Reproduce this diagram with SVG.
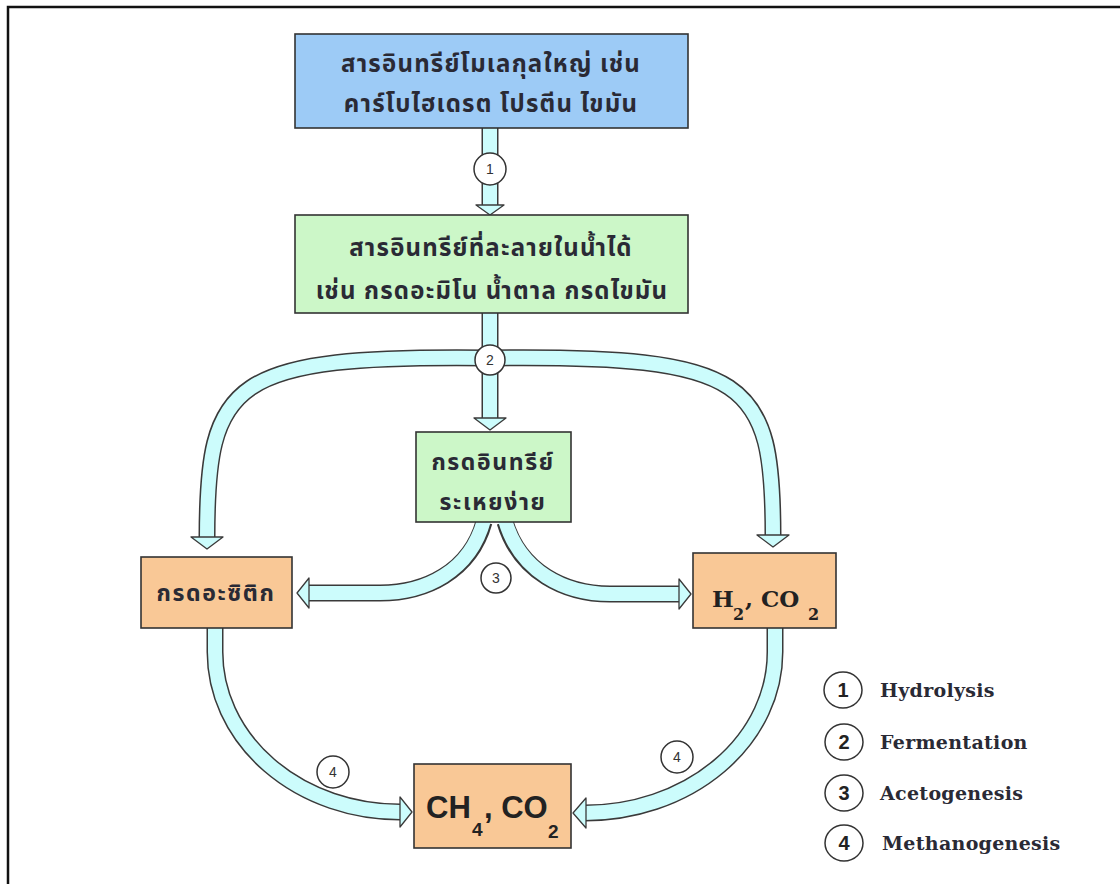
<svg xmlns="http://www.w3.org/2000/svg" width="1120" height="884" viewBox="0 0 1120 884">
  <defs>
    <style>
      .box { stroke: #333; stroke-width: 1.6; }
      .blue { fill: #9dcbf6; }
      .green { fill: #ccf7c8; }
      .orange { fill: #f9c896; }
      .th { font-family: "Noto Sans Thai", "Noto Sans", "DejaVu Sans", sans-serif; font-weight: bold; fill: #2a2a35; text-anchor: middle; }
      .tube-o { fill: none; stroke: #3a3a3a; stroke-width: 17; }
      .tube-i { fill: none; stroke: #ccfcfc; stroke-width: 14; }
      .head { fill: #ccfcfc; stroke: #3a3a3a; stroke-width: 1.3; stroke-linejoin: round; }
      .step { fill: #fff; stroke: #333; stroke-width: 1.5; }
      .num { font-family: "Liberation Sans", Arial, sans-serif; font-size: 14px; fill: #333; text-anchor: middle; }
      .lnum { font-family: "Liberation Sans", Arial, sans-serif; font-size: 20px; font-weight: bold; fill: #222; text-anchor: middle; }
      .leg { font-family: "DejaVu Serif", serif; font-size: 19px; font-weight: bold; fill: #2a2a35; letter-spacing: 0.3px; }
      .chem { font-family: "DejaVu Serif", serif; font-weight: bold; fill: #222; }
      .chem2 { font-family: "Liberation Sans Narrow", "Liberation Sans", Arial, sans-serif; font-weight: bold; fill: #222; }
    </style>
  </defs>

  <!-- page frame (left and top rules only) -->
  <path d="M8 884 V7 H1120" fill="none" stroke="#111" stroke-width="2.5"/>

  <!-- connectors -->
  <g id="connectors">
    <!-- outlines -->
    <path class="tube-o" d="M490 128 V206"/>
    <path class="tube-o" d="M490 313 V420"/>
    <path class="tube-o" d="M490 358 C230 355 207 380 207 538"/>
    <path class="tube-o" d="M490 358 C750 355 773 380 773 536"/>
    <path class="tube-o" d="M484 522 C470 572 425 593 380 593 H308"/>
    <path class="tube-o" d="M505 522 C520 572 565 594 610 594 H680"/>
    <path class="tube-o" d="M215 628 V652 A185 160 0 0 0 400 812"/>
    <path class="tube-o" d="M775 628 V652 A190 161 0 0 1 585 813"/>
    <!-- fills -->
    <path class="tube-i" d="M490 126 V207"/>
    <path class="tube-i" d="M490 311 V421"/>
    <path class="tube-i" d="M490 358 C230 355 207 380 207 539"/>
    <path class="tube-i" d="M490 358 C750 355 773 380 773 537"/>
    <path class="tube-i" d="M484 520 C470 572 425 593 380 593 H307"/>
    <path class="tube-i" d="M505 520 C520 572 565 594 610 594 H681"/>
    <path class="tube-i" d="M215 626 V652 A185 160 0 0 0 400 812"/>
    <path class="tube-i" d="M775 626 V652 A190 161 0 0 1 585 813"/>
    <!-- arrowheads -->
    <polygon class="head" points="476,205 504,205 490,215"/>
    <polygon class="head" points="474,418 506,418 490,430"/>
    <polygon class="head" points="191,537 223,537 207,549"/>
    <polygon class="head" points="757,535 789,535 773,547"/>
    <polygon class="head" points="309,578 309,608 297,593"/>
    <polygon class="head" points="679,579 679,609 691,594"/>
    <polygon class="head" points="400,797 400,827 412,812"/>
    <polygon class="head" points="586,798 586,828 573,813"/>
    <!-- step markers on the flow -->
    <circle class="step" cx="490" cy="169" r="16"/>
    <text class="num" x="490" y="174">1</text>
    <circle class="step" cx="490" cy="360" r="15"/>
    <text class="num" x="490" y="365">2</text>
    <circle class="step" cx="496" cy="578" r="15"/>
    <text class="num" x="496" y="583">3</text>
    <circle class="step" cx="333" cy="772" r="16"/>
    <text class="num" x="333" y="777">4</text>
    <circle class="step" cx="677" cy="757" r="16"/>
    <text class="num" x="677" y="762">4</text>
  </g>

  <!-- complex organic matter -->
  <g id="node-macromolecules">
    <rect class="box blue" x="295" y="34" width="393" height="94"/>
    <text class="th" x="491" y="72" font-size="24" letter-spacing="1.2">สารอินทรีย์โมเลกุลใหญ่ เช่น</text>
    <text class="th" x="491" y="112" font-size="24" letter-spacing="1.2">คาร์โบไฮเดรต โปรตีน ไขมัน</text>
  </g>

  <!-- soluble organic matter -->
  <g id="node-soluble">
    <rect class="box green" x="295" y="215" width="393" height="98"/>
    <text class="th" x="491" y="256" font-size="24" letter-spacing="1.2">สารอินทรีย์ที่ละลายในน้ำได้</text>
    <text class="th" x="492" y="299" font-size="24" letter-spacing="1.2">เช่น กรดอะมิโน น้ำตาล กรดไขมัน</text>
  </g>

  <!-- volatile fatty acids -->
  <g id="node-vfa">
    <rect class="box green" x="416" y="432" width="155" height="90"/>
    <text class="th" x="493" y="470" font-size="23" letter-spacing="1.6">กรดอินทรีย์</text>
    <text class="th" x="493" y="510" font-size="23" letter-spacing="1.6">ระเหยง่าย</text>
  </g>

  <!-- acetic acid -->
  <g id="node-acetic">
    <rect class="box orange" x="141" y="557" width="151" height="71"/>
    <text class="th" x="216" y="601" font-size="23" letter-spacing="1.6">กรดอะซิติก</text>
  </g>

  <!-- hydrogen and carbon dioxide -->
  <g id="node-h2co2">
    <rect class="box orange" x="693" y="553" width="143" height="75"/>
    <text class="chem" font-size="23"><tspan x="712" y="607">H</tspan><tspan x="733" y="620" font-size="16">2</tspan><tspan x="745" y="607">, CO</tspan><tspan x="808" y="620" font-size="16">2</tspan></text>
  </g>

  <!-- methane and carbon dioxide -->
  <g id="node-ch4co2">
    <rect class="box orange" x="414" y="764" width="157" height="84"/>
    <text class="chem2" font-size="31"><tspan x="426" y="818">CH</tspan><tspan x="472" y="836" font-size="19">4</tspan><tspan x="484" y="818">, CO</tspan><tspan x="548" y="838" font-size="19">2</tspan></text>
  </g>

  <!-- legend -->
  <g id="legend">
    <ellipse class="step" cx="843" cy="690" rx="19" ry="18"/>
    <text class="lnum" x="843" y="697">1</text>
    <text class="leg" x="880" y="697">Hydrolysis</text>
    <ellipse class="step" cx="844" cy="742" rx="19" ry="18"/>
    <text class="lnum" x="844" y="749">2</text>
    <text class="leg" x="880" y="749">Fermentation</text>
    <ellipse class="step" cx="844" cy="793" rx="19" ry="18"/>
    <text class="lnum" x="844" y="800">3</text>
    <text class="leg" x="880" y="800">Acetogenesis</text>
    <ellipse class="step" cx="844" cy="843" rx="19" ry="18"/>
    <text class="lnum" x="844" y="850">4</text>
    <text class="leg" x="882" y="850">Methanogenesis</text>
  </g>
</svg>
